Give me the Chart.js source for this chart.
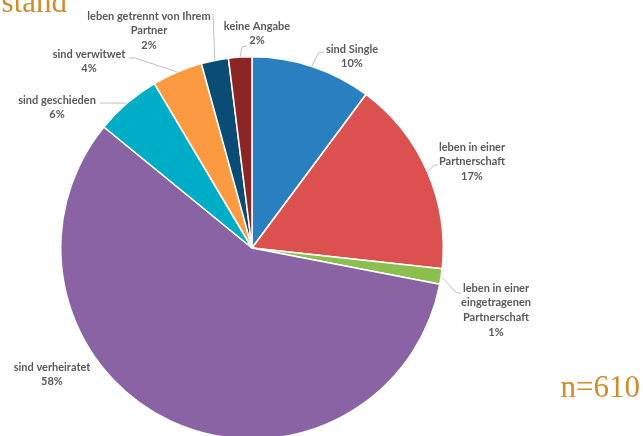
<!DOCTYPE html>
<html>
<head>
<meta charset="utf-8">
<script src="https://cdn.jsdelivr.net/npm/chart.js@4.4.1/dist/chart.umd.min.js"></script>
<style>
  html, body { margin: 0; padding: 0; overflow: hidden; background: #fff; }
  #wrap { position: absolute; left: 0; top: 0; width: 643px; height: 496px; }
</style>
</head>
<body>
<div id="wrap"><canvas id="chart" width="643" height="496"></canvas></div>
<script>
// Familienstand, n=610
const categories = [
  'sind Single',
  'leben in einer Partnerschaft',
  'leben in einer eingetragenen Partnerschaft',
  'sind verheiratet',
  'sind geschieden',
  'sind verwitwet',
  'leben getrennt von Ihrem Partner',
  'keine Angabe'
];
// label text as it is wrapped in the picture
const labelLines = [
  ['sind Single'],
  ['leben in einer', 'Partnerschaft'],
  ['leben in einer', 'eingetragenen', 'Partnerschaft'],
  ['sind verheiratet'],
  ['sind geschieden'],
  ['sind verwitwet'],
  ['leben getrennt von Ihrem', 'Partner'],
  ['keine Angabe']
];
// answers per category (total 610)
const counts = [62, 101, 8, 353, 34, 26, 14, 12];
const total = 610;

const colors = ['#2a7fc1', '#dd5050', '#8dbf4f', '#8a63a5', '#00adc6', '#fc9a41', '#0b4c75', '#8c2626'];

// where each data label sits and how its leader line bends
const labelLayout = [
  { x: 352, y: 49, bend: [[318, 53], [324, 52]] },
  { x: 472, y: 147, bend: [[435, 165], [438, 165]] },
  { x: 496, y: 288, bend: [[457, 293], [461, 293]] },
  { x: 52, y: 367, bend: null },
  { x: 57, y: 100, bend: [[100, 103]] },
  { x: 89, y: 54, bend: [[135, 58], [129, 58]] },
  { x: 149, y: 16, bend: [[213, 14]] },
  { x: 257, y: 26, bend: [[242, 47], [247, 46]] }
];

const labelPlugin = {
  id: 'pieLabels',
  afterDraw(chart) {
    const ctx = chart.ctx;
    const arcs = chart.getDatasetMeta(0).data;
    ctx.save();
    // leader lines
    ctx.strokeStyle = '#bfbfbf';
    ctx.lineWidth = 1;
    arcs.forEach((arc, i) => {
      const lay = labelLayout[i];
      if (!lay.bend) return;
      const p = arc.getProps(['x', 'y', 'startAngle', 'endAngle', 'outerRadius'], true);
      const mid = (p.startAngle + p.endAngle) / 2;
      ctx.beginPath();
      ctx.moveTo(p.x + Math.cos(mid) * p.outerRadius, p.y + Math.sin(mid) * p.outerRadius);
      lay.bend.forEach(pt => ctx.lineTo(pt[0], pt[1]));
      ctx.stroke();
    });
    // label text
    ctx.fillStyle = '#595959';
    ctx.font = 'bold 11px Lato';
    ctx.textAlign = 'center';
    ctx.textBaseline = 'middle';
    arcs.forEach((arc, i) => {
      const lay = labelLayout[i];
      const lines = labelLines[i].concat([Math.round(counts[i] / total * 100) + '%']);
      lines.forEach((t, k) => ctx.fillText(t, lay.x, lay.y + k * 14.7));
    });
    // title (cut at top) and sample size
    ctx.fillStyle = '#d4892b';
    ctx.font = '31px "Liberation Serif"';
    ctx.textAlign = 'right';
    ctx.textBaseline = 'alphabetic';
    ctx.fillText('stand', 67, 12);
    ctx.fillText('n=610', 640, 397);
    ctx.restore();
  }
};

new Chart(document.getElementById('chart'), {
  type: 'pie',
  data: {
    labels: categories,
    datasets: [{
      data: counts,
      backgroundColor: colors,
      borderColor: '#ffffff',
      borderWidth: 1.5
    }]
  },
  options: {
    responsive: false,
    animation: false,
    devicePixelRatio: 1,
    layout: { padding: { left: 60, right: 199, top: 56, bottom: 56 } },
    plugins: {
      legend: { display: false },
      tooltip: { enabled: false }
    }
  },
  plugins: [labelPlugin]
});
</script>
</body>
</html>
